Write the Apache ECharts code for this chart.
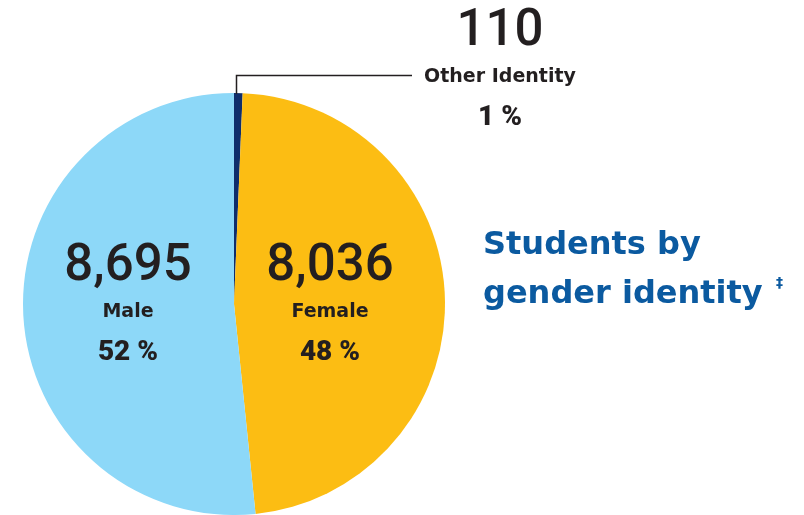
<!DOCTYPE html>
<html>
<head>
<meta charset="utf-8">
<script src="https://cdn.jsdelivr.net/npm/echarts@6/dist/echarts.min.js"></script>
<style>
  html, body { margin: 0; padding: 0; background: #fff; }
  #chart { width: 804px; height: 515px; }
</style>
</head>
<body>
<div id="chart"></div>
<script>
// slice order: clockwise from 12 o'clock
const categories = ['Other Identity', 'Female', 'Male'];
const counts = [110, 8036, 8695];
const percentLabels = ['1 %', '48 %', '52 %'];
const sliceColors = ['#0f2d6b', '#fcbd13', '#8dd8f8'];

const chart = echarts.init(document.getElementById('chart'));
const fmt = n => n.toLocaleString('en-US');
const ink = '#231f20';
const numFont = 'Roboto, "Open Sans", sans-serif';
const wide = '"DejaVu Sans", "Open Sans", sans-serif';
const blue = '#0b5aa0';

function txt(str, x, y, f, color, align) {
  return {
    type: 'text', x: x, y: y, z: 100,
    style: { text: str, fill: color || ink, font: f, align: align || 'center', verticalAlign: 'middle' }
  };
}

// three-line label block: number, name, percent
function block(i, cx, cy) {
  return [
    txt(fmt(counts[i]), cx, cy, '500 51px ' + numFont),
    txt(categories[i], cx, cy + 45, '700 19px ' + wide),
    txt(percentLabels[i], cx, cy + 86, '900 28px ' + numFont)
  ];
}

const option = {
  backgroundColor: '#fff',
  animation: false,
  series: [{
    type: 'pie',
    center: [234, 304],
    radius: [0, 211],
    startAngle: 90,
    clockwise: true,
    label: { show: false },
    labelLine: { show: false },
    itemStyle: { borderWidth: 0 },
    emphasis: { disabled: true },
    data: categories.map((c, i) => ({ name: c, value: counts[i], itemStyle: { color: sliceColors[i] } }))
  }],
  graphic: [
    // leader line for the small slice
    { type: 'polyline', z: 100, shape: { points: [[236.5, 94], [236.5, 75.5], [412, 75.5]] }, style: { stroke: ink, lineWidth: 1.5, fill: null } },
    ...block(0, 500, 32),
    ...block(2, 128, 267),
    ...block(1, 330, 267),
    txt('Students by', 483, 246, '700 32px ' + wide, blue, 'left'),
    txt('gender identity', 483, 295, '700 32px ' + wide, blue, 'left'),
    txt('‡', 776, 283, '700 14px ' + wide, blue, 'left')
  ]
};
chart.setOption(option);
</script>
</body>
</html>
